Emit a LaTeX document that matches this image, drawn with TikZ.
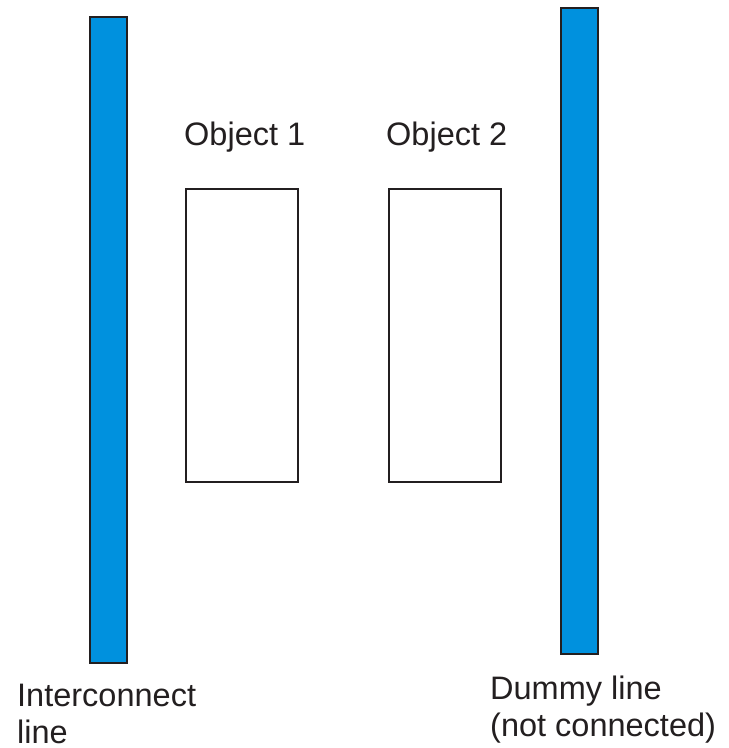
\documentclass[tikz,border=0pt]{standalone}
\usepackage{fontspec}
\setmainfont{Liberation Sans}
\usetikzlibrary{positioning}
\definecolor{lineblue}{HTML}{0091DE}
\definecolor{inkgray}{HTML}{231F20}
\tikzset{
	bar/.style={draw=inkgray, fill=lineblue, line width=2pt, inner sep=0pt, minimum width=37pt, minimum height=646pt},
	objbox/.style={draw=inkgray, fill=white, line width=1.6pt, inner sep=0pt, minimum width=112pt, minimum height=293pt},
	tag/.style={text=inkgray, inner sep=0pt, align=left, font=\fontsize{32.5}{37}\selectfont}
}
\begin{document}
\begin{tikzpicture}[x=1pt, y=-1pt]
	\useasboundingbox[fill=white] (0,0) rectangle (729,748);
	% the two lines
	\node[bar] (interconnect) at (108,340) {};
	\node[bar] (dummy) at (579.5,331) {};
	% the two objects between them
	\node[objbox] (obj1) at (242,335.5) {};
	\node[objbox] (obj2) at (445,335.5) {};
	\node[tag, anchor=base west] (obj1name) at (184,145) {Object 1};
	\node[tag, anchor=base west] (obj2name) at (386,145) {Object 2};
	% captions under the lines (base = last line)
	\node[tag, anchor=base west] (interconnectname) at (17,743) {Interconnect\\line};
	\node[tag, anchor=base west] (dummyname) at (490,736) {Dummy line\\(not connected)};
\end{tikzpicture}
\end{document}
